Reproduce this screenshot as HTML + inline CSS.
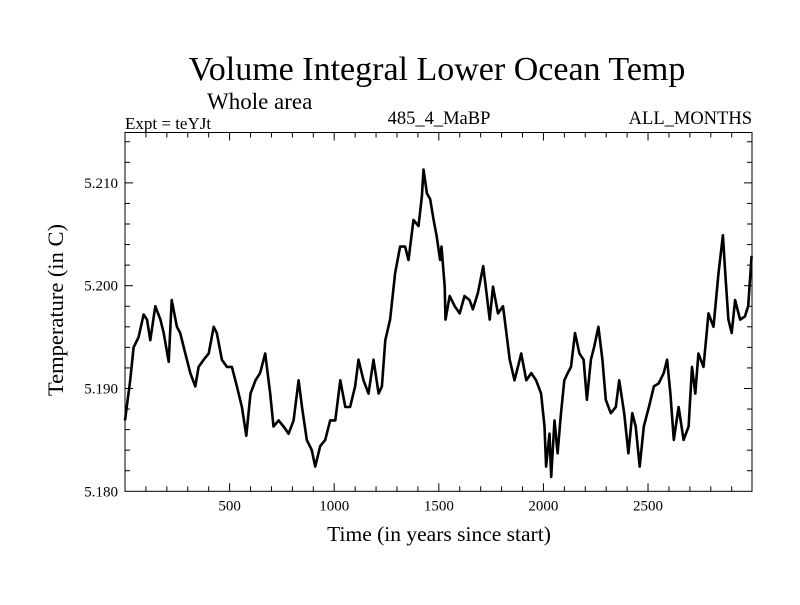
<!DOCTYPE html>
<html><head><meta charset="utf-8"><style>
body{margin:0;background:#fff;}
svg text{font-family:"Liberation Serif",serif;fill:#000;}
</style></head><body>
<svg id="chart" width="800" height="600" xmlns="http://www.w3.org/2000/svg">
<rect width="800" height="600" fill="#fff"/>
<text x="437" y="80" font-size="34" text-anchor="middle">Volume Integral Lower Ocean Temp</text>
<text x="207" y="109" font-size="23">Whole area</text>
<text x="125" y="129" font-size="17">Expt = teYJt</text>
<text x="439" y="124" font-size="18.5" text-anchor="middle">485_4_MaBP</text>
<text x="752" y="124" font-size="18.5" text-anchor="end">ALL_MONTHS</text>
<text transform="translate(63,310) rotate(-90)" font-size="22.5" text-anchor="middle">Temperature (in C)</text>
<text x="439" y="541" font-size="21.5" text-anchor="middle">Time (in years since start)</text>
<g id="ticks"></g>
<path id="series" fill="none" stroke="#000" stroke-width="2.6" stroke-linejoin="round"/>
<rect x="125" y="132.5" width="627" height="358.8" fill="none" stroke="#000" stroke-width="1"/>
</svg>
<script>
const years=[0,25,41,65,89,105,121,145,169,185,209,223,248,264,288,312,336,352,376,400,424,439,463,487,511,535,559,580,600,624,646,670,694,710,734,758,782,806,830,846,869,893,909,933,957,981,1005,1029,1053,1076,1100,1116,1140,1164,1188,1212,1228,1244,1267,1291,1315,1339,1355,1379,1403,1419,1427,1443,1459,1475,1490,1506,1513,1528,1532,1552,1576,1600,1623,1647,1663,1687,1712,1728,1743,1759,1783,1807,1823,1839,1862,1878,1894,1918,1942,1965,1989,2005,2013,2029,2037,2053,2068,2084,2100,2116,2132,2151,2172,2192,2208,2227,2243,2263,2282,2298,2322,2346,2362,2386,2406,2425,2441,2460,2480,2504,2528,2551,2575,2591,2607,2623,2646,2670,2694,2710,2726,2741,2765,2789,2813,2837,2858,2869,2884,2900,2916,2940,2963,2979,2995];
const temps=[5.1869,5.1908,5.1940,5.1950,5.1972,5.1967,5.1947,5.1980,5.1967,5.1954,5.1926,5.1986,5.1960,5.1954,5.1934,5.1915,5.1902,5.1921,5.1928,5.1934,5.1960,5.1954,5.1928,5.1921,5.1921,5.1902,5.1882,5.1854,5.1895,5.1908,5.1915,5.1934,5.1895,5.1863,5.1869,5.1863,5.1856,5.1869,5.1908,5.1882,5.1850,5.1840,5.1824,5.1844,5.1850,5.1869,5.1869,5.1908,5.1882,5.1882,5.1902,5.1928,5.1908,5.1895,5.1928,5.1895,5.1902,5.1947,5.1967,5.2012,5.2038,5.2038,5.2025,5.2064,5.2058,5.2087,5.2113,5.2090,5.2084,5.2064,5.2048,5.2025,5.2038,5.1999,5.1967,5.1990,5.1980,5.1973,5.1990,5.1986,5.1977,5.1993,5.2019,5.1993,5.1967,5.1999,5.1973,5.1980,5.1954,5.1928,5.1908,5.1921,5.1934,5.1908,5.1915,5.1908,5.1895,5.1863,5.1824,5.1856,5.1814,5.1869,5.1837,5.1876,5.1908,5.1915,5.1921,5.1954,5.1934,5.1928,5.1889,5.1928,5.1941,5.1960,5.1928,5.1889,5.1876,5.1882,5.1908,5.1876,5.1837,5.1876,5.1863,5.1824,5.1863,5.1882,5.1902,5.1905,5.1915,5.1928,5.1895,5.1850,5.1882,5.1850,5.1863,5.1921,5.1895,5.1934,5.1921,5.1973,5.1960,5.2012,5.2049,5.2013,5.1967,5.1954,5.1986,5.1967,5.1970,5.1980,5.2029];
const xTicks=[500,1000,1500,2000,2500];
const yTicks=[5.180,5.190,5.200,5.210];
const X0=125,X1=752,Y0=491.3,Y1=132.5;
const xMin=0,xMax=2997,yMin=5.18,yMax=5.2149;
function sx(v){return X0+(v-xMin)/(xMax-xMin)*(X1-X0);}
function sy(v){return Y0-(v-yMin)/(yMax-yMin)*(Y0-Y1);}
const NS='http://www.w3.org/2000/svg';
let d='';
for(let i=0;i<years.length;i++){d+=(i?'L':'M')+sx(years[i]).toFixed(1)+','+sy(temps[i]).toFixed(1);}
document.getElementById('series').setAttribute('d',d);
const g=document.getElementById('ticks');
function line(x1,y1,x2,y2){const l=document.createElementNS(NS,'line');l.setAttribute('x1',x1);l.setAttribute('y1',y1);l.setAttribute('x2',x2);l.setAttribute('y2',y2);l.setAttribute('stroke','#000');l.setAttribute('stroke-width','1');


g.appendChild(l);}
for(let t=100;t<xMax;t+=100){const x=sx(t);const L=(t%500===0)?8:5;line(x,Y0,x,Y0-L);line(x,Y1,x,Y1+L);}
for(let v=5.182;v<yMax;v+=0.002){const y=sy(v);const maj=Math.abs(v*1000-Math.round(v*100)*10)<0.01;const L=maj?8:5;line(X0,y,X0+L,y);line(X1,y,X1-L,y);}
xTicks.forEach(t=>{const e=document.createElementNS(NS,'text');e.setAttribute('x',sx(t));e.setAttribute('y',Y0+19);e.setAttribute('font-size','15');e.setAttribute('text-anchor','middle');e.textContent=t;


g.appendChild(e);});
yTicks.forEach(v=>{const e=document.createElementNS(NS,'text');e.setAttribute('x',X0-7);e.setAttribute('y',sy(v)+5);e.setAttribute('font-size','15');e.setAttribute('text-anchor','end');e.textContent=v.toFixed(3);


g.appendChild(e);});
</script>
</body></html>
